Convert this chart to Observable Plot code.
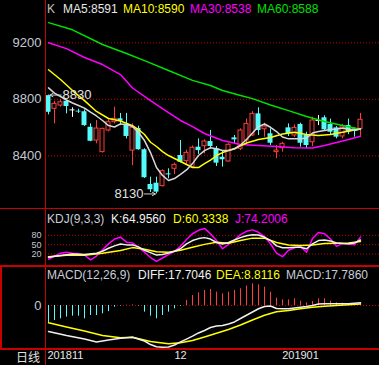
<!DOCTYPE html>
<html><head><meta charset="utf-8">
<script src="https://cdn.jsdelivr.net/npm/d3@7"></script>
<script src="https://cdn.jsdelivr.net/npm/@observablehq/plot@0.6"></script>
<style>
html,body{margin:0;padding:0;background:#000;}
#wrap{position:relative;width:379px;height:365px;background:#000;overflow:hidden;font-family:"Liberation Sans",Arial,sans-serif;}
.panel{position:absolute;left:0;}
.lg{position:absolute;font-size:12px;line-height:14px;white-space:nowrap;}
.bd{position:absolute;background:#c80000;}
</style></head><body><div id="wrap"></div>
<script>
// ---------- data ----------
const open  = [8826,8733,8756,8786,8725,8716,8712,8602,8508,8426,8579,8638,8662,8619,8437,8593,8443,8197,8206,8185,8272,8308,8402,8362,8320,8461,8468,8501,8450,8390,8360,8527,8450,8508,8544,8697,8588,8556,8426,8454,8598,8544,8622,8544,8496,8650,8669,8622,8598,8537,8615,8591,8591];
const high  = [8830,8786,8796,8790,8740,8730,8725,8626,8650,8595,8655,8744,8700,8700,8626,8610,8450,8249,8249,8300,8308,8348,8508,8440,8470,8520,8513,8580,8466,8430,8485,8544,8591,8660,8713,8740,8631,8591,8473,8496,8626,8619,8631,8567,8673,8685,8683,8660,8607,8622,8660,8598,8700];
const low   = [8690,8626,8744,8697,8672,8700,8608,8500,8485,8420,8570,8626,8614,8520,8330,8440,8240,8140,8130,8180,8237,8268,8350,8340,8310,8410,8414,8450,8324,8320,8355,8485,8437,8478,8537,8544,8532,8473,8380,8426,8537,8530,8461,8450,8466,8614,8572,8550,8520,8520,8550,8532,8537];
const close = [8708,8768,8779,8749,8725,8710,8614,8503,8593,8591,8638,8662,8645,8537,8598,8443,8245,8160,8143,8291,8265,8336,8355,8421,8457,8437,8501,8466,8348,8372,8478,8513,8579,8626,8697,8579,8607,8489,8437,8485,8556,8598,8489,8473,8650,8650,8584,8567,8532,8607,8567,8574,8655];

const ma5 = [8881,8844,8820,8795,8774,8756,8738,8709,8682,8650,8614,8604,8626,8622,8607,8565,8508,8423,8317,8261,8225,8239,8268,8300,8345,8402,8437,8457,8450,8437,8437,8448,8476,8515,8561,8607,8625,8602,8572,8533,8520,8520,8520,8526,8561,8572,8579,8586,8590,8597,8590,8579,8591];
const ma10Idx = [0,2,4,6,8,10,12,14,15,16,17,18,19,20,22,24,25,26,27,28,29,31,33,35,37,39,41,43,45,47,49,51,52];
const ma10    = [9009,8940,8862,8791,8714,8664,8646,8614,8586,8551,8496,8466,8430,8402,8360,8317,8317,8345,8370,8402,8423,8452,8491,8515,8530,8554,8567,8551,8544,8551,8567,8583,8590];
const ma30Idx = [0,3,6,9,12,14,17,20,22,24,26,29,32,35,38,41,44,46,48,50,52];
const ma30    = [9200,9159,9096,9046,8975,8880,8791,8706,8650,8607,8558,8508,8480,8473,8466,8457,8455,8473,8494,8515,8538];
const ma60Idx = [0,4,9,13,16,20,24,27,29,32,34,37,40,43,46,49,52];
const ma60    = [9343,9292,9188,9124,9074,9004,8934,8898,8862,8827,8805,8760,8720,8678,8643,8614,8588];

const kIdx = [0,2,4,6,8,9,10,11,12,13,14,15,16,17,18,19,20,21,22,23,24,25,26,27,28,29,30,31,32,33,34,35,36,37,38,39,40,41,42,43,44,45,46,47,48,49,50,51,52];
const kVal = [9.7,15.3,20,18.4,23,29,38.5,46.3,52.5,49.4,49.4,43,32.3,24.6,16.8,18.4,23,29,37,52.5,63.3,69.5,72.6,68,57,52.5,57,65,72.6,78.8,82,81,74,63.3,46.3,40,40,41.6,41.6,37,52.5,63.3,65,61.8,55.6,54,53,55.6,64.9560];
const dIdx = [0,3,6,9,12,14,16,18,20,22,24,26,28,30,32,34,36,38,40,42,44,46,48,50,52];
const dVal = [11.5,15.9,16.2,23,31.4,40.7,35.4,27.7,25.5,32.3,41.6,51,57.8,54.7,63.3,71,71,57,48.8,47.8,49.4,54,55,55.6,60.3338];
const jVal = [3.5,13.7,23,26,23,21.5,17,1.3,13.7,34,52.5,68,74,58,55.6,41.6,26,9,-3.3,7.5,18.4,29,44.7,66.4,85,96,102,85,63.3,37,51,65,82,92.8,97.4,89.7,75.7,53,23,11.6,32.3,40,44.7,26,69.5,89,85,68,44.7,54,52.5,50,74.2006];

const macdVal = [-112,-97,-86,-75,-69,-69,-86,-64.5,-64.5,-54,-40,-11,-3,2,4,-3,-43,-69,-86,-64.5,-43,-21.5,-5,32,64.5,81.7,96.8,103,86,75,86,97,107.5,125,140,133,118,86,47,36.6,36.6,43,28,17,26,43,43,28,17,15,11,6.5,17.7860];
const diffIdx = [0,3,6,8,10,12,14,16,17,18,19,20,21,22,23,24,25,26,27,28,29,30,31,32,33,34,35,36,37,38,39,40,41,42,43,44,45,46,47,48,49,50,51,52];
const diffVal = [-168,-194,-216,-235,-223,-211,-205,-229,-252,-266,-269,-268,-255,-235,-217,-198,-177,-161,-142,-132,-129,-119,-106,-84,-63,-42,-21,-6.5,-3,-19,-21,-21,-16,-11,-6.5,0,10,11,11,11,11,11,15,17.7046];
const deaIdx = [0,3,6,9,12,14,17,20,22,24,26,28,30,32,34,36,38,40,42,44,46,48,50,52];
const deaVal = [-112,-139,-165,-194,-208,-205,-232,-247,-241,-226,-203,-179,-155,-126,-94,-63,-41,-32,-21,-12,-5,0,5,8.8116];

const priceTicks = [8400, 8800, 9200];
const kdjTicks = [20, 50, 80];
const macdTicks = [0];
const xTickIdx = [0, 22, 42];
const xTickLabels = ["201811", "12", "201901"];

// ---------- helpers ----------
const RED = "#ff3c3c", CYAN = "#54fcfc", GRID = "#c00000", AXIS = "#c4c8d4";
const pairs = (idx, vals) => idx.map((i, k) => ({i, v: vals[k]}));
const full = vals => vals.map((v, i) => ({i, v}));
const candles = open.map((o, i) => ({i, open: o, high: high[i], low: low[i], close: close[i]}));
const up = candles.filter(d => d.close > d.open);
const down = candles.filter(d => d.close < d.open);
const doji = candles.filter(d => d.close === d.open);
const xDomain = [-0.5, (379 - 48) / 6];
const style = {background: "transparent", color: AXIS, fontFamily: "Liberation Sans, Arial, sans-serif", fontSize: "12px"};
const grid = ticks => Plot.ruleY(ticks, {stroke: GRID, strokeDasharray: "1,2"});
const plain = d => String(d);

const wrap = document.getElementById("wrap");
function place(el, top) { el.classList.add("panel"); el.style.top = top + "px"; wrap.appendChild(el); }
function lg(x, y, text, color) { const s = document.createElement("div"); s.className = "lg"; s.style.left = x + "px"; s.style.top = y + "px"; s.style.color = color; s.textContent = text; wrap.appendChild(s); }
function bd(x, y, w, h) { const s = document.createElement("div"); s.className = "bd"; Object.assign(s.style, {left: x + "px", top: y + "px", width: w + "px", height: h + "px"}); wrap.appendChild(s); }

// ---------- price panel ----------
const hiIdx = d3.maxIndex(high), loIdx = d3.minIndex(low);
const hiPt = [{i: hiIdx, v: high[hiIdx]}], loPt = [{i: loIdx, v: low[loIdx]}];
const price = Plot.plot({
  width: 379, height: 208, marginLeft: 45, marginRight: 0, marginTop: 0, marginBottom: 0,
  x: {domain: xDomain, axis: null},
  y: {domain: [8027, 9499.5], axis: null},
  style,
  marks: [
    grid(priceTicks),
    Plot.axisY(priceTicks, {tickSize: 0, tickPadding: 4, fontSize: 13, fill: AXIS, label: null, tickFormat: plain}),
    Plot.ruleX(up, {x: "i", y1: "low", y2: "high", stroke: RED}),
    Plot.ruleX(down, {x: "i", y1: "low", y2: "high", stroke: CYAN}),
    Plot.ruleX(doji, {x: "i", y1: "low", y2: "high", stroke: "#ffffff"}),
    Plot.rect(down, {x1: d => d.i - 2.5 / 6, x2: d => d.i + 2.5 / 6, y1: "open", y2: "close", fill: CYAN}),
    Plot.rect(up, {x1: d => d.i - 2 / 6, x2: d => d.i + 2 / 6, y1: "open", y2: "close", fill: "#000", stroke: RED}),
    Plot.ruleY(doji, {x1: d => d.i - 2.5 / 6, x2: d => d.i + 2.5 / 6, y: "close", stroke: "#ffffff"}),
    Plot.line(pairs(ma60Idx, ma60), {x: "i", y: "v", stroke: "#00e000"}),
    Plot.line(pairs(ma30Idx, ma30), {x: "i", y: "v", stroke: "#ff00ff"}),
    Plot.line(pairs(ma10Idx, ma10), {x: "i", y: "v", stroke: "#ffff00"}),
    Plot.line(full(ma5), {x: "i", y: "v", stroke: "#d8d8d8"}),
    Plot.arrow(hiPt, {x1: d => d.i + 2.1, x2: d => d.i + 0.25, y1: "v", y2: "v", stroke: "#d0d0d0", headLength: 5, strokeWidth: 1}),
    Plot.text(hiPt, {x: "i", y: "v", text: d => String(d.v), dx: 14, textAnchor: "start", fill: "#e0e0e0", fontSize: 13}),
    Plot.arrow(loPt, {x1: d => d.i - 2, x2: d => d.i - 0.2, y1: "v", y2: "v", stroke: "#d0d0d0", headLength: 5, strokeWidth: 1}),
    Plot.text(loPt, {x: "i", y: "v", text: d => String(d.v), dx: -13, textAnchor: "end", fill: "#e0e0e0", fontSize: 13})
  ]
});
place(price, 0);

// ---------- KDJ panel ----------
const kdj = Plot.plot({
  width: 379, height: 56, marginLeft: 45, marginRight: 0, marginTop: 0, marginBottom: 0,
  x: {domain: xDomain, axis: null},
  y: {domain: [-16.5, 162.5], axis: null},
  style,
  marks: [
    grid(kdjTicks),
    Plot.axisY(kdjTicks, {tickSize: 0, tickPadding: 4, fontSize: 9, fill: AXIS, label: null, tickFormat: plain}),
    Plot.line(full(jVal), {x: "i", y: "v", stroke: "#ff00ff"}),
    Plot.line(pairs(dIdx, dVal), {x: "i", y: "v", stroke: "#ffff00"}),
    Plot.line(pairs(kIdx, kVal), {x: "i", y: "v", stroke: "#f0f0f0"})
  ]
});
place(kdj, 209);

// ---------- MACD panel ----------
const macdData = full(macdVal);
const macd = Plot.plot({
  width: 379, height: 98, marginLeft: 45, marginRight: 0, marginTop: 0, marginBottom: 17,
  x: {domain: xDomain, axis: null},
  y: {domain: [-277.4, 245], axis: null},
  style,
  marks: [
    grid(macdTicks),
    Plot.axisY(macdTicks, {tickSize: 0, tickPadding: 4, fontSize: 13, fill: AXIS, label: null, tickFormat: plain}),
    Plot.ruleX(macdData.filter(d => d.v >= 0), {x: "i", y1: 0, y2: "v", stroke: RED}),
    Plot.ruleX(macdData.filter(d => d.v < 0), {x: "i", y1: 0, y2: "v", stroke: CYAN}),
    Plot.line(pairs(deaIdx, deaVal), {x: "i", y: "v", stroke: "#ffff00"}),
    Plot.line(pairs(diffIdx, diffVal), {x: "i", y: "v", stroke: "#f0f0f0"}),
    Plot.text([0], {x: d => xTickIdx[d], text: d => xTickLabels[d], frameAnchor: "bottom", dy: 10, dx: -1, textAnchor: "start", fill: "#e8e8e8", fontSize: 11}),
    Plot.text([1, 2], {x: d => xTickIdx[d], text: d => xTickLabels[d], frameAnchor: "bottom", dy: 10, textAnchor: "middle", fill: "#e8e8e8", fontSize: 11})
  ]
});
place(macd, 267);

// ---------- borders ----------
bd(45, 0, 1, 365);
bd(0, 208, 379, 1);
bd(0, 265, 379, 2);
bd(0, 348, 379, 2);
bd(0, 265, 2, 85);

// ---------- legends ----------
const f0 = v => String(Math.round(v));
const f4 = v => v.toFixed(4);
lg(47, 2, "K", "#c0c0c0");
lg(63, 2, "MA5:" + f0(ma5.at(-1)), "#e8e8e8");
lg(123, 2, "MA10:" + f0(ma10.at(-1)), "#ffff00");
lg(190, 2, "MA30:" + f0(ma30.at(-1)), "#ff00ff");
lg(257, 2, "MA60:" + f0(ma60.at(-1)), "#00e000");
lg(47, 212, "KDJ(9,3,3)", "#c8ccd8");
lg(111, 212, "K:" + f4(kVal.at(-1)), "#f0f0f0");
lg(173, 212, "D:" + f4(dVal.at(-1)), "#ffff00");
lg(235, 212, "J:" + f4(jVal.at(-1)), "#ff00ff");
lg(47, 268, "MACD(12,26,9)", "#c8ccd8");
lg(138, 268, "DIFF:" + f4(diffVal.at(-1)), "#f0f0f0");
lg(216, 268, "DEA:" + f4(deaVal.at(-1)), "#ffff00");
lg(286, 268, "MACD:" + f4(macdVal.at(-1)), "#c8ccd8");
const dx = document.createElement("div");
dx.className = "lg"; dx.style.left = "16px"; dx.style.top = "350px"; dx.style.color = "#e0e0e0";
dx.style.fontFamily = "'Noto Sans CJK SC', sans-serif"; dx.textContent = "日线";
wrap.appendChild(dx);
</script></body></html>
